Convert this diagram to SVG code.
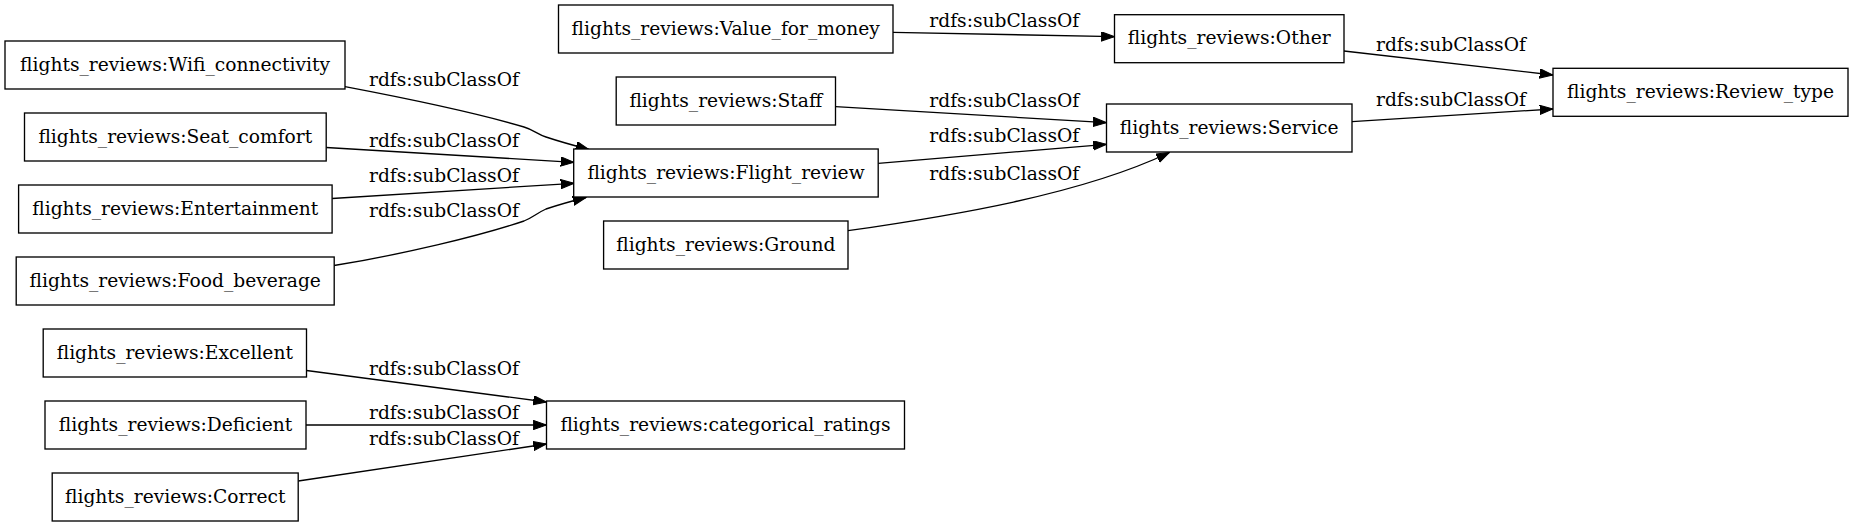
<svg xmlns="http://www.w3.org/2000/svg" width="1853" height="527" viewBox="0 0 1853 527">
<style>
.node rect{fill:#fff;stroke:#000;stroke-width:1.33}
.node text{font-family:"DejaVu Serif",serif;font-size:18.67px;text-anchor:middle;fill:#000}
.edge path{fill:none;stroke:#000;stroke-width:1.33}
.lbl{font-family:"DejaVu Serif",serif;font-size:18.67px;fill:#000}
</style>
<defs>
<marker id="ah" markerUnits="userSpaceOnUse" markerWidth="14" markerHeight="10" refX="13.3" refY="4.67" orient="auto">
<path d="M0,0 L13.3,4.67 L0,9.33 Z" fill="#000" stroke="#000" stroke-width="1"/>
</marker>
</defs>
<rect x="0" y="0" width="1853" height="527" fill="#fff"/>
<g id="edges" class="edge">
<path marker-end="url(#ah)" d="M345,86.7 C415,100 480,114 524,127 C534,130 537,134 546,137 C558,141 572,145 589,149.5"/>
<path marker-end="url(#ah)" d="M326.2,147.5 L574,162.3"/>
<path marker-end="url(#ah)" d="M332.1,198.5 L574,183.3"/>
<path marker-end="url(#ah)" d="M334,265.5 C400,255 480,236 524,221 C534,217 537,213 546,209 C558,205 572,201 586,197.5"/>
<path marker-end="url(#ah)" d="M893,32.3 L1114.5,36.7"/>
<path marker-end="url(#ah)" d="M835.5,106.6 L1106.5,122.7"/>
<path marker-end="url(#ah)" d="M878.2,163.3 L1106.5,144.3"/>
<path marker-end="url(#ah)" d="M848,230.7 C950,216 1080,195 1169.5,152.5"/>
<path marker-end="url(#ah)" d="M1344,51 L1553,75"/>
<path marker-end="url(#ah)" d="M1352,121.7 L1553,109"/>
<path marker-end="url(#ah)" d="M306.5,370.5 L546.5,402"/>
<path marker-end="url(#ah)" d="M306,425 L546.5,425"/>
<path marker-end="url(#ah)" d="M298.3,481 L546.5,444"/>
<text class="lbl" x="369" y="86">rdfs:subClassOf</text>
<text class="lbl" x="369" y="146.7">rdfs:subClassOf</text>
<text class="lbl" x="369" y="182">rdfs:subClassOf</text>
<text class="lbl" x="369" y="217.3">rdfs:subClassOf</text>
<text class="lbl" x="929.3" y="27.3">rdfs:subClassOf</text>
<text class="lbl" x="929.3" y="107.3">rdfs:subClassOf</text>
<text class="lbl" x="929.3" y="141.7">rdfs:subClassOf</text>
<text class="lbl" x="929.3" y="180">rdfs:subClassOf</text>
<text class="lbl" x="1376" y="50.7">rdfs:subClassOf</text>
<text class="lbl" x="1376" y="106">rdfs:subClassOf</text>
<text class="lbl" x="369" y="375">rdfs:subClassOf</text>
<text class="lbl" x="369" y="419">rdfs:subClassOf</text>
<text class="lbl" x="369" y="445">rdfs:subClassOf</text>
</g>
<g id="n_wifi" class="node"><rect x="5" y="41" width="340" height="48"/><text x="175" y="70.6">flights_reviews:Wifi_connectivity</text></g>
<g id="n_seat" class="node"><rect x="24.5" y="113" width="301.7" height="48"/><text x="175.3" y="142.6">flights_reviews:Seat_comfort</text></g>
<g id="n_ent" class="node"><rect x="18.6" y="185" width="313.5" height="48"/><text x="175.3" y="214.6">flights_reviews:Entertainment</text></g>
<g id="n_food" class="node"><rect x="16.2" y="257" width="318" height="48"/><text x="175.2" y="286.6">flights_reviews:Food_beverage</text></g>
<g id="n_exc" class="node"><rect x="43.2" y="329" width="263.3" height="48"/><text x="174.8" y="358.6">flights_reviews:Excellent</text></g>
<g id="n_def" class="node"><rect x="45" y="401" width="261" height="48"/><text x="175.5" y="430.6">flights_reviews:Deficient</text></g>
<g id="n_cor" class="node"><rect x="52.2" y="473" width="246" height="48"/><text x="175.2" y="502.6">flights_reviews:Correct</text></g>
<g id="n_vfm" class="node"><rect x="558.5" y="5" width="334.5" height="48"/><text x="725.7" y="34.6">flights_reviews:Value_for_money</text></g>
<g id="n_staff" class="node"><rect x="616.2" y="77" width="219.3" height="48"/><text x="725.8" y="106.6">flights_reviews:Staff</text></g>
<g id="n_fr" class="node"><rect x="573.7" y="149" width="304.5" height="48"/><text x="726" y="178.6">flights_reviews:Flight_review</text></g>
<g id="n_ground" class="node"><rect x="603.6" y="221" width="244.4" height="48"/><text x="725.8" y="250.6">flights_reviews:Ground</text></g>
<g id="n_cat" class="node"><rect x="546.5" y="401" width="358" height="48"/><text x="725.5" y="430.6">flights_reviews:categorical_ratings</text></g>
<g id="n_other" class="node"><rect x="1114.5" y="14.7" width="229.5" height="48"/><text x="1229.2" y="44.2">flights_reviews:Other</text></g>
<g id="n_service" class="node"><rect x="1106.5" y="104" width="245.5" height="48"/><text x="1229.2" y="133.6">flights_reviews:Service</text></g>
<g id="n_rt" class="node"><rect x="1553" y="68.3" width="295" height="48"/><text x="1700.5" y="97.9">flights_reviews:Review_type</text></g>
</svg>
